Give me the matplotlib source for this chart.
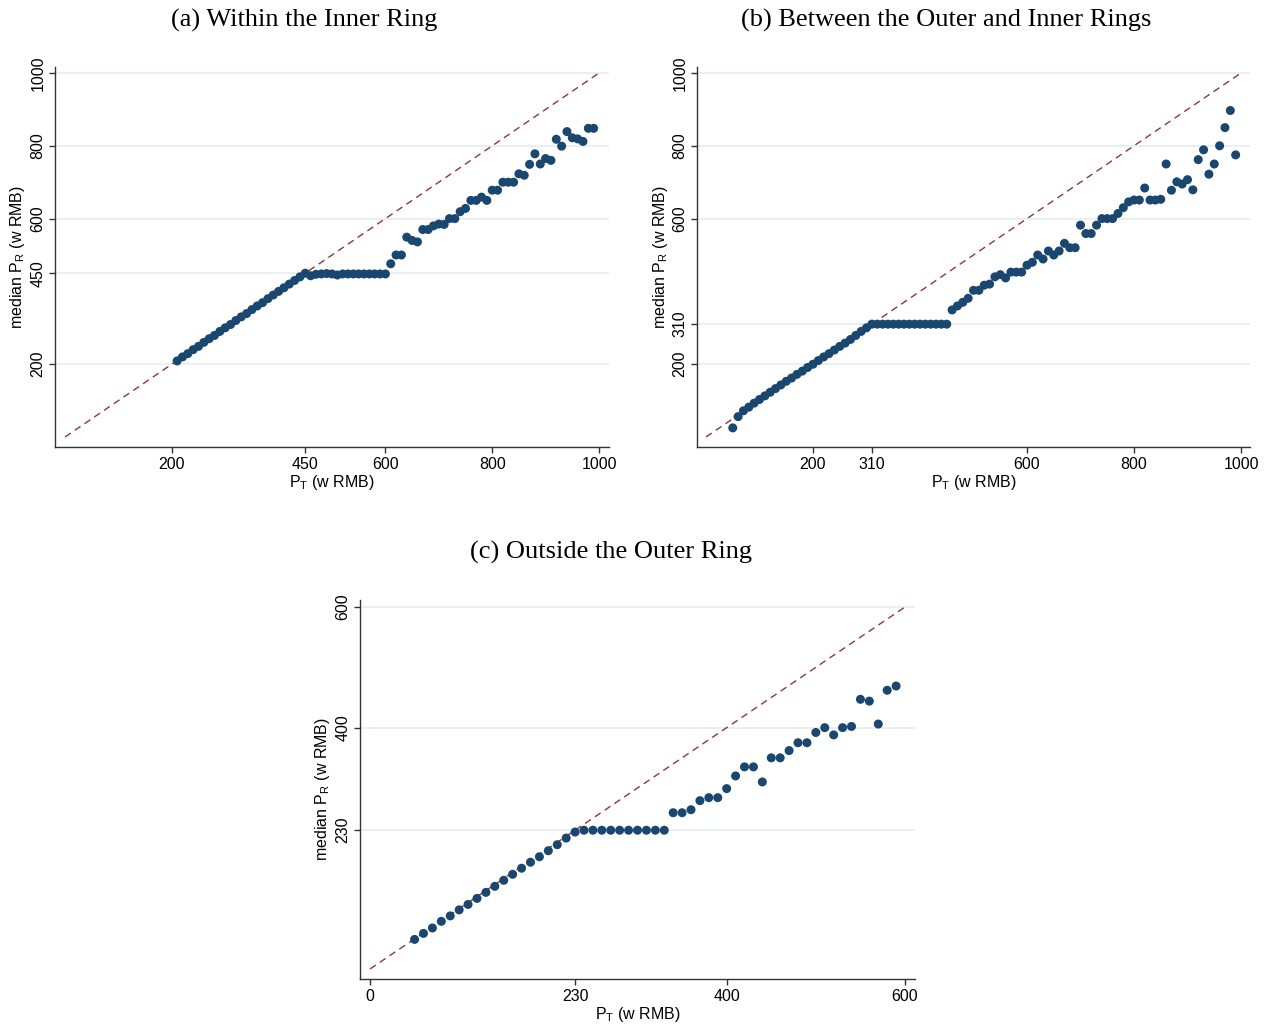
import matplotlib
matplotlib.use("Agg")
import matplotlib.pyplot as plt

# ---- data (P_T in w RMB, median P_R in w RMB) ----
a_x = [210, 220, 230, 240, 250, 260, 270, 280, 290, 300, 310, 320, 330, 340, 350,
       360, 370, 380, 390, 400, 410, 420, 430, 440, 450,
       460, 470, 480, 490, 500, 510, 520, 530, 540, 550, 560, 570, 580, 590, 600,
       610, 620, 630, 640, 650, 660, 670, 680, 690, 700, 710, 720, 730, 740, 750,
       760, 770, 780, 790, 800, 810, 820, 830, 840, 850, 860, 870, 880, 890, 900,
       910, 920, 930, 940, 950, 960, 970, 980, 990]
a_y = [209, 220, 229, 240, 249, 260, 270, 279, 290, 300, 309, 320, 330, 339, 350,
       360, 369, 380, 390, 400, 410, 420, 430, 440, 450,
       443, 447, 448, 449, 448, 445, 448, 448, 448, 448, 448, 448, 448, 448, 448,
       476, 500, 500, 549, 540, 536, 570, 570, 580, 585, 584, 600, 600, 619, 628,
       650, 650, 659, 650, 678, 678, 700, 700, 700, 723, 719, 749, 778, 750, 765,
       760, 818, 799, 839, 822, 819, 812, 848, 848]

b_x = [50, 60, 70, 80, 90, 100, 110, 120, 130, 140, 150, 160, 170, 180, 190, 200,
       210, 220, 230, 240, 250, 260, 270, 280, 290, 300,
       310, 320, 330, 340, 350, 360, 370, 380, 390, 400, 410, 420, 430, 440, 450,
       460, 470, 480, 490, 500, 510, 520, 530, 540, 550, 560, 570, 580, 590, 600,
       610, 620, 630, 640, 650, 660, 670, 680, 690, 700, 710, 720, 730, 740, 750,
       760, 770, 780, 790, 800, 810, 820, 830, 840, 850, 860, 870, 880, 890, 900,
       910, 920, 930, 940, 950, 960, 970, 980, 990]
b_y = [25, 56, 72, 82, 93, 103, 113, 123, 133, 143, 153, 162, 172, 181, 191, 200,
       210, 220, 229, 239, 249, 258, 268, 279, 290, 300,
       310, 310, 310, 310, 310, 310, 310, 310, 310, 310, 310, 310, 310, 310, 310,
       349, 360, 370, 381, 403, 403, 417, 420, 440, 446, 437, 453, 453, 453, 472,
       480, 500, 489, 511, 500, 511, 532, 520, 520, 582, 559, 559, 582, 600, 600,
       600, 614, 630, 646, 651, 651, 684, 651, 651, 653, 750, 678, 701, 695, 707,
       679, 762, 789, 722, 750, 800, 850, 897, 775]

c_x = [50, 60, 70, 80, 90, 100, 110, 120, 130, 140, 150, 160, 170, 180, 190, 200,
       210, 220, 230, 240, 250, 260, 270, 280, 290, 300, 310, 320, 330,
       340, 350, 360, 370, 380, 390, 400, 410, 420, 430, 440, 450, 460, 470, 480,
       490, 500, 510, 520, 530, 540, 550, 560, 570, 580, 590]
c_y = [49, 59, 68, 79, 88, 98, 107, 117, 127, 137, 147, 157, 167, 177, 186, 196,
       206, 217, 227, 230, 230, 230, 230, 230, 230, 230, 230, 230, 230,
       259, 259, 264, 279, 284, 284, 299, 320, 335, 335, 310, 350, 350, 362, 375,
       375, 392, 400, 388, 400, 402, 447, 444, 406, 462, 469]

a_ticks = [200, 450, 600, 800, 1000]
a_yticks = [200, 450, 600, 800, 1000]
b_ticks = [200, 310, 600, 800, 1000]
b_yticks = [200, 310, 600, 800, 1000]
c_ticks = [0, 230, 400, 600]
c_yticks = [230, 400, 600]

titles = ["(a) Within the Inner Ring",
          "(b) Between the Outer and Inner Rings",
          "(c) Outside the Outer Ring"]

NAVY = "#1a476f"
MAROON = "#90353b"
GRID = "#e4eef1"

W, H = 1271, 1026


def px_axes(fig, left, top, right, bottom):
    return fig.add_axes([left / W, 1 - bottom / H, (right - left) / W, (bottom - top) / H])


def draw_panel(ax, xs, ys, xticks, yticks, xlim, ylim, diag_max):
    # 45-degree reference line
    ax.plot([0, diag_max], [0, diag_max], linestyle=(0, (5, 3.5)), color=MAROON,
            linewidth=1.0, zorder=2)
    ax.scatter(xs, ys, s=42, color=NAVY, edgecolors="none", zorder=3)
    ax.set_xlim(*xlim)
    ax.set_ylim(*ylim)
    ax.set_xticks(xticks)
    ax.set_yticks(yticks)
    ax.set_yticklabels([str(t) for t in yticks], rotation=90, va="center")
    ax.grid(axis="y", color=GRID, linewidth=1.2, zorder=0)
    ax.set_axisbelow(True)
    for side in ("top", "right"):
        ax.spines[side].set_visible(False)
    for side in ("left", "bottom"):
        ax.spines[side].set_color("#333333")
        ax.spines[side].set_linewidth(1.0)
    ax.tick_params(direction="out", length=4, width=1.0, color="#333333",
                   labelsize=11.5, pad=3)
    ax.set_xlabel(r"P$_\mathregular{T}$ (w RMB)", fontsize=11.5, labelpad=1)
    ax.set_ylabel(r"median P$_\mathregular{R}$ (w RMB)", fontsize=11.5, labelpad=2)


def main() -> None:
    plt.rcParams["font.family"] = ["Liberation Sans", "DejaVu Sans"]
    plt.rcParams["mathtext.fontset"] = "custom"
    plt.rcParams["mathtext.rm"] = "Liberation Sans"

    fig = plt.figure(figsize=(W / 100, H / 100), dpi=100)
    fig.patch.set_facecolor("white")

    ax_a = px_axes(fig, 55, 67, 609, 447)
    draw_panel(ax_a, a_x, a_y, a_ticks, a_yticks, (-18.7, 1018.7), (-27.5, 1016.5), 1000)

    ax_b = px_axes(fig, 697, 67, 1250, 447)
    draw_panel(ax_b, b_x, b_y, b_ticks, b_yticks, (-16.8, 1016.8), (-27.5, 1016.5), 1000)

    ax_c = px_axes(fig, 360, 600, 915, 979)
    draw_panel(ax_c, c_x, c_y, c_ticks, c_yticks, (-11.2, 611.2), (-16.6, 611.6), 600)

    title_kw = dict(fontsize=19, family=["Liberation Serif", "DejaVu Serif"],
                    ha="center", va="center")
    fig.text(304 / W, 1 - 20 / H, titles[0], **title_kw)
    fig.text(946 / W, 1 - 20 / H, titles[1], **title_kw)
    fig.text(611 / W, 1 - 552 / H, titles[2], **title_kw)

    fig.savefig("out.png", dpi=100, facecolor="white")


if __name__ == "__main__":
    main()
